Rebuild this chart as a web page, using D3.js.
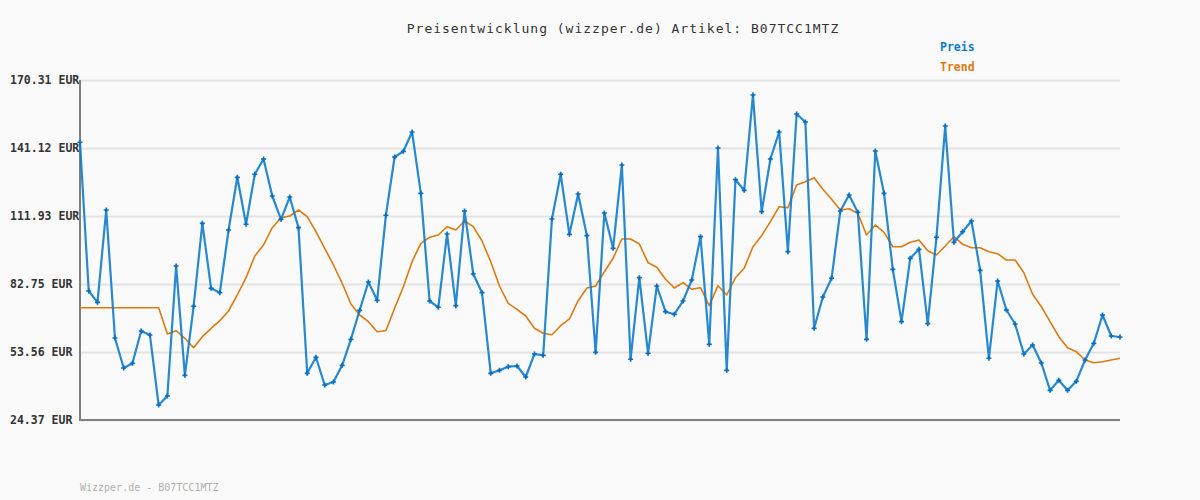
<!DOCTYPE html>
<html><head><meta charset="utf-8">
<script src="https://cdn.jsdelivr.net/npm/d3@7"></script>
<style>
html,body{margin:0;padding:0;background:#fafafa;}
svg{display:block;}
</style></head>
<body>
<svg id="c" width="1200" height="500"></svg>
<script>
const title = "Preisentwicklung (wizzper.de) Artikel: B07TCC1MTZ";
const footer = "Wizzper.de - B07TCC1MTZ";
const seriesNames = ["Preis", "Trend"];
const tickValues = [24.37, 53.56, 82.75, 111.93, 141.12, 170.31];
const tickLabels = ["24.37 EUR", "53.56 EUR", "82.75 EUR", "111.93 EUR", "141.12 EUR", "170.31 EUR"];

const preis = [
143.58,79.74,74.89,114.51,59.57,46.69,48.71,62.57,60.86,30.81,
34.67,90.48,43.56,73.18,108.80,80.90,79.01,105.93,128.55,108.38,
129.84,136.41,120.52,110.52,120.09,106.92,44.42,51.28,39.39,40.68,
47.85,59.01,71.46,83.61,75.75,112.24,137.27,139.71,148.00,121.68,
75.45,72.75,104.21,73.43,114.09,87.04,79.01,44.42,45.70,47.25,
47.55,42.83,52.70,52.14,110.65,129.84,104.08,121.38,103.48,53.43,
113.23,98.07,133.83,50.43,85.45,53.00,81.89,70.86,69.74,75.45,
84.47,103.05,56.86,141.13,45.70,127.52,122.97,163.88,113.79,136.41,
148.00,96.61,155.72,152.29,63.73,77.17,85.20,114.09,120.95,113.53,
59.01,139.84,121.68,89.06,66.57,93.78,97.64,65.71,102.80,150.57,
100.65,105.20,109.79,88.63,50.86,84.04,71.59,65.58,52.70,56.56,
48.84,37.12,41.41,37.12,40.98,50.13,57.29,69.44,60.43,60.00
];
const trend = [
72.58,72.58,72.58,72.58,72.58,72.58,72.58,72.58,72.58,72.58,
61.29,62.70,59.44,55.41,60.13,63.73,67.00,71.16,78.03,85.45,
94.77,99.49,106.92,111.21,111.94,114.51,111.64,105.20,98.07,90.91,
83.05,74.16,69.44,66.57,62.27,62.70,72.32,81.59,92.32,100.22,
102.80,103.78,107.35,105.93,109.79,107.35,101.21,92.32,81.89,74.46,
71.89,69.01,63.73,61.59,60.99,64.85,67.73,75.58,81.03,81.89,
88.03,93.78,102.07,102.07,99.92,91.89,89.92,84.77,81.03,83.31,
80.47,81.16,73.43,82.02,78.03,85.45,89.49,98.76,103.48,109.49,
115.93,115.50,125.25,126.66,128.38,123.40,119.11,114.51,115.07,113.10,
103.78,108.08,104.94,98.76,98.76,100.65,101.64,97.04,95.20,99.06,
103.05,99.79,98.33,98.33,96.61,95.76,93.05,93.05,87.60,78.33,
73.01,66.57,60.13,55.41,53.69,50.13,48.97,49.40,50.13,50.86
];

const blue = "#0f7ccc", orange = "#dd7a10";
const svg = d3.select("#c");
const L = 80, R = 1120, T = 80, B = 420;
const x = d3.scaleLinear().domain([0, preis.length - 1]).range([L, R]);
const y = d3.scaleLinear().domain([tickValues[0], tickValues[tickValues.length - 1]]).range([B, T]);

svg.append("rect").attr("width", 1200).attr("height", 500).attr("fill", "#fafafa");

// grid
const yAxis = d3.axisLeft(y).tickValues(tickValues).tickSize(-(R - L)).tickFormat("");
const g = svg.append("g").attr("transform", `translate(${L},0)`).call(yAxis);
g.select(".domain").remove();
g.selectAll(".tick line").attr("stroke", "#e3e3e3").attr("stroke-width", 2);

// tick labels
svg.append("g").selectAll("text").data(tickValues).join("text")
  .attr("x", 10).attr("y", d => y(d)).attr("dy", "0.35em")
  .attr("font-family", "DejaVu Sans Mono, monospace").attr("font-size", 11.5)
  .attr("font-weight", "bold").attr("fill", "#333")
  .text((d, i) => tickLabels[i]);

// axes lines
svg.append("line").attr("x1", L).attr("x2", L).attr("y1", T).attr("y2", B + 1)
  .attr("stroke", "#808080").attr("stroke-width", 2);
svg.append("line").attr("x1", L - 1).attr("x2", R).attr("y1", B).attr("y2", B)
  .attr("stroke", "#808080").attr("stroke-width", 2);

// trend
const line = d3.line().x((d, i) => x(i)).y(d => y(d));
svg.append("path").datum(trend).attr("d", line).attr("fill", "none")
  .attr("stroke", orange).attr("stroke-width", 1.6).attr("stroke-linejoin", "round");

// preis
svg.append("path").datum(preis).attr("d", line).attr("fill", "none")
  .attr("stroke", blue).attr("stroke-width", 2.2).attr("stroke-linejoin", "round").attr("opacity", 0.9);

const sym = d3.symbol().type(d3.symbolCross).size(14);
svg.append("g").selectAll("path").data(preis).join("path")
  .attr("transform", (d, i) => `translate(${x(i)},${y(d)})`)
  .attr("d", sym).attr("fill", "#0a6fbf");

// title
svg.append("text").attr("x", 623).attr("y", 33).attr("text-anchor", "middle")
  .attr("font-family", "DejaVu Sans Mono, monospace").attr("font-size", 13)
  .attr("letter-spacing", 1).attr("fill", "#333").text(title);

// legend
svg.append("g").selectAll("text").data(seriesNames).join("text")
  .attr("x", 940).attr("y", (d, i) => 51 + i * 20)
  .attr("font-family", "DejaVu Sans Mono, monospace").attr("font-size", 11.5)
  .attr("font-weight", "bold").attr("fill", (d, i) => i === 0 ? blue : orange)
  .text(d => d);

// footer
svg.append("text").attr("x", 80).attr("y", 491)
  .attr("font-family", "DejaVu Sans Mono, monospace").attr("font-size", 10)
  .attr("fill", "#b0b0b0").text(footer);
</script>
</body></html>
